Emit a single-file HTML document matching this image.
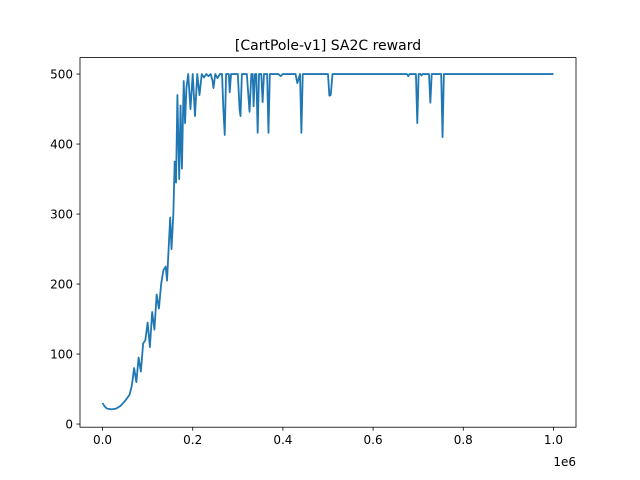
<!DOCTYPE html>
<html><head><meta charset="utf-8"><style>
body{margin:0;background:#fff;}
svg{display:block;font-family:"DejaVu Sans","Liberation Sans",sans-serif;}
</style></head><body>
<svg id="chart" width="640" height="480">
<rect width="640" height="480" fill="#fff"/>
<text x="328" y="50" text-anchor="middle" font-size="14">[CartPole-v1] SA2C reward</text>
<g id="plot"></g>
<rect x="80" y="57.6" width="496" height="369.6" fill="none" stroke="#000" stroke-width="0.8"/>
<g id="xt"></g><g id="yt"></g>
<text x="576" y="466" text-anchor="end" font-size="12">1e6</text>
</svg>
<script>
const steps=[0,0.005,0.01,0.02,0.03,0.04,0.05,0.06,0.065,0.07,0.075,0.08,0.085,0.09,0.095,0.1,0.105,0.11,0.115,0.12,0.125,0.13,0.135,0.14,0.143,0.15,0.153,0.157,0.16,0.163,0.166,0.17,0.173,0.176,0.18,0.183,0.186,0.19,0.195,0.2,0.205,0.21,0.215,0.22,0.225,0.23,0.235,0.24,0.244,0.246,0.25,0.255,0.26,0.265,0.268,0.271,0.274,0.28,0.282,0.285,0.3,0.304,0.306,0.309,0.32,0.326,0.33,0.333,0.335,0.338,0.341,0.344,0.347,0.352,0.355,0.358,0.365,0.368,0.371,0.39,0.395,0.4,0.428,0.432,0.438,0.441,0.444,0.5,0.503,0.506,0.51,0.675,0.678,0.681,0.695,0.698,0.701,0.705,0.707,0.71,0.724,0.727,0.73,0.751,0.754,0.757,1.0];
const rewards=[30,25,22,21,22,26,33,42,55,80,60,95,75,115,120,145,110,160,135,185,165,200,220,225,205,295,250,300,375,345,470,350,455,365,490,430,480,500,450,500,440,500,470,500,495,500,497,500,490,480,500,494,500,500,449,413,500,500,474,500,500,449,440,500,500,446,500,500,454,500,500,416,500,500,460,500,500,416,500,500,497,500,500,487,500,416,500,500,469,470,500,500,497,500,500,430,500,500,498,500,500,459,500,500,410,500,500];
const xTicks=[0,0.2,0.4,0.6,0.8,1.0];
const xLabels=["0.0","0.2","0.4","0.6","0.8","1.0"];
const yTicks=[0,100,200,300,400,500];
const L=80,R=576,T=57.6,B=427.2;
const xmin=-0.05,xmax=1.05,ymin=-4.5,ymax=523.5;
const sx=v=>L+(v-xmin)/(xmax-xmin)*(R-L);
const sy=v=>B-(v-ymin)/(ymax-ymin)*(B-T);
const NS="http://www.w3.org/2000/svg";
const p=document.createElementNS(NS,"path");


p.setAttribute("d",steps.map((s,i)=>(i?"L":"M")+sx(s).toFixed(2)+","+sy(rewards[i]).toFixed(2)).join(""));
p.setAttribute("fill","none");p.setAttribute("stroke","#1f77b4");p.setAttribute("stroke-width","1.8");p.setAttribute("stroke-linejoin","round");
document.getElementById("plot").appendChild(p);
const xt=document.getElementById("xt");
xTicks.forEach((t,i)=>{
 const g=document.createElementNS(NS,"g");
 
 
 const x=sx(t);
 g.innerHTML=`<line x1="${x}" x2="${x}" y1="${B}" y2="${B+3.5}" stroke="#000" stroke-width="0.8"/><text x="${x}" y="${B+17}" text-anchor="middle" font-size="12">${xLabels[i]}</text>`;
 xt.appendChild(g);
});
const yt=document.getElementById("yt");
yTicks.forEach(t=>{
 const g=document.createElementNS(NS,"g");
 
 
 const y=sy(t);
 g.innerHTML=`<line x1="${L-3.5}" x2="${L}" y1="${y}" y2="${y}" stroke="#000" stroke-width="0.8"/><text x="${L-7}" y="${y+4.5}" text-anchor="end" font-size="12">${t}</text>`;
 yt.appendChild(g);
});
</script>
</body></html>
